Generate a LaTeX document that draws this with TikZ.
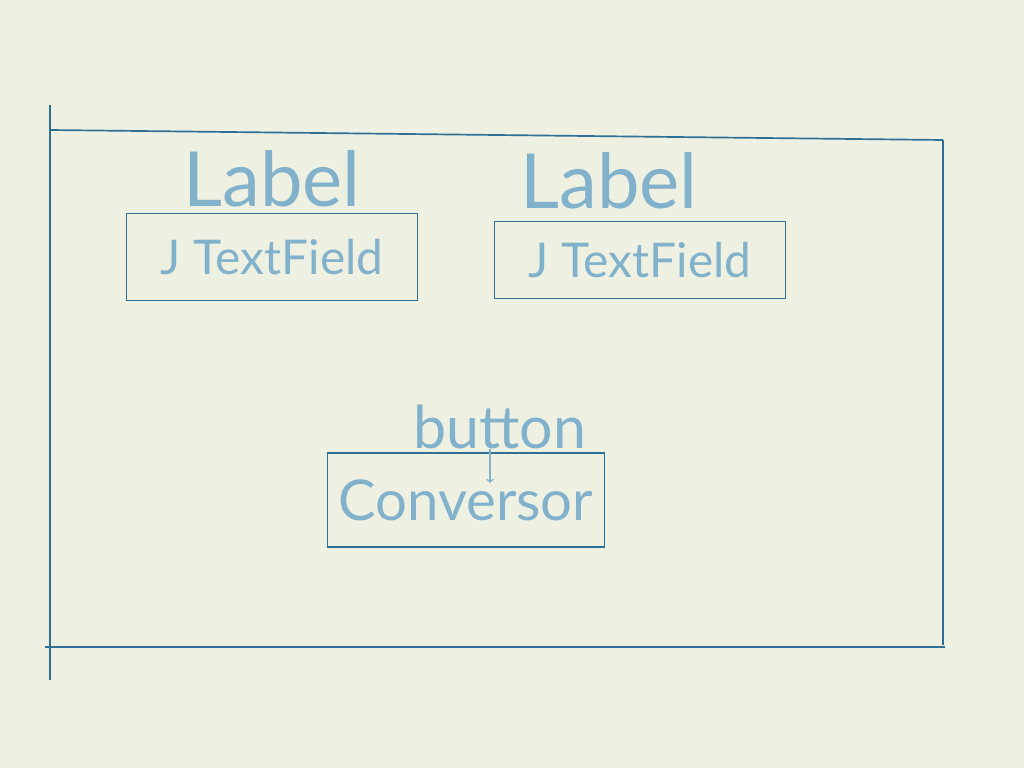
\documentclass[tikz,border=0pt]{standalone}
\usepackage{fontspec}
\setmainfont{Lato}
\usetikzlibrary{positioning}
\definecolor{paper}{HTML}{EEF0E2}
\definecolor{ink}{HTML}{2E6F96}
\definecolor{pencil}{HTML}{82B2CB}
\tikzset{
    sketchbox/.style={rectangle, draw=ink, line width=1.3pt, inner sep=0pt},
    handtext/.style={text=pencil, font=\fontsize{#1}{#1}\selectfont},
    frameline/.style={draw=ink, line width=1.2pt}
}

\begin{document}
\begin{tikzpicture}[x=0.025cm, y=-0.025cm]
    \fill [paper] (0,0) rectangle (1024,768);

    % window frame
    \draw [frameline] (50,105) -- (50,680);
    \draw [frameline] (50,130) -- (943,140);
    \draw [frameline] (943,140) -- (943,645);
    \draw [frameline] (45,647) -- (945,647);

    \node (fieldA) [sketchbox, handtext=34pt, minimum width=291*0.025cm, minimum height=87*0.025cm] at (272,257) {J TextField};
    \node (fieldB) [sketchbox, handtext=34pt, minimum width=291*0.025cm, minimum height=77*0.025cm] at (640,260) {J TextField};
    \node (convert) [sketchbox, handtext=40pt, minimum width=277*0.025cm, minimum height=94*0.025cm] at (466,500) {Conversor};

    \node (labelA) [handtext=54pt, inner sep=0pt, above=4pt of fieldA] {Label};
    \node (labelB) [handtext=54pt, inner sep=0pt, above=8pt of fieldB, xshift=-22pt] {Label};
    \node (btnlabel) [handtext=42pt, inner sep=0pt, above=2pt of convert, xshift=24pt] {button};

    \coordinate (tip) at (490,483);
    \draw [->, pencil, line width=1pt] (btnlabel.south -| tip) -- (tip);
\end{tikzpicture}
\end{document}
